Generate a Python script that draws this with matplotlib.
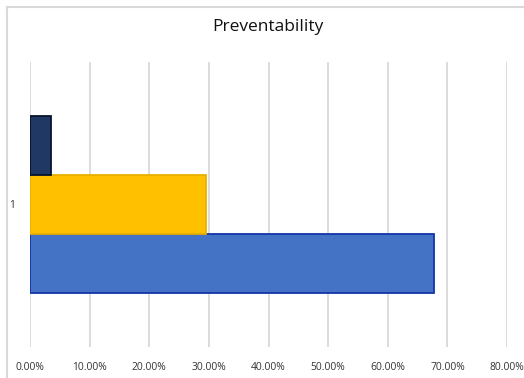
import matplotlib.pyplot as plt
from matplotlib.lines import Line2D
from matplotlib.ticker import FuncFormatter

# one category, three side-by-side horizontal series (bottom to top)
categories = ["1"]
series_names = ["Preventable", "Possibly preventable", "Not preventable"]
series_values = [0.678, 0.296, 0.035]
fill_colors = ["#4472C4", "#FFC000", "#203864"]
edge_colors = ["#1436a8", "#e8b000", "#08142e"]
x_ticks = [0.0, 0.1, 0.2, 0.3, 0.4, 0.5, 0.6, 0.7, 0.8]

W, H = 524, 378
fig = plt.figure(figsize=(W / 100, H / 100), dpi=100)
ax = fig.add_axes([30 / W, 1 - 347 / H, (507 - 30) / W, (347 - 62) / H])

bar_h = 59 / 285
n = len(series_values)
for i, (name, val) in enumerate(zip(series_names, series_values)):
    offset = (i - (n - 1) / 2) * bar_h
    ax.barh(0 + offset, val, height=bar_h, color=fill_colors[i],
            edgecolor=edge_colors[i], linewidth=1.3, label=name, zorder=3)

ax.set_xlim(0, 0.8)
ax.set_ylim(-0.5, 0.5)
ax.set_xticks(x_ticks)
ax.xaxis.set_major_formatter(FuncFormatter(lambda v, p: f"{v * 100:.2f}%"))
ax.set_yticks([0])
ax.set_yticklabels(categories)
ax.grid(axis="x", color="#d9d9d9", linewidth=1.3, zorder=0)
ax.tick_params(length=0, labelsize=7.4, colors="#333333")
ax.tick_params(axis="x", pad=11)
ax.tick_params(axis="y", pad=11)
for lbl in ax.get_xticklabels() + ax.get_yticklabels():
    lbl.set_family("Open Sans")
for s in ax.spines.values():
    s.set_visible(False)

fig.text(268 / W, 1 - 27 / H, "Preventability", ha="center", va="center",
         fontsize=12.5, family="Open Sans", color="#111111")

# chart frame: only the top and left edges fall inside the image
frame = dict(transform=fig.transFigure, color="#d9d9d9", linewidth=1.5)
fig.add_artist(Line2D([6.5 / W, 1.0], [1 - 7 / H, 1 - 7 / H], **frame))
fig.add_artist(Line2D([6.5 / W, 6.5 / W], [0.0, 1 - 7 / H], **frame))

fig.savefig("out.png", dpi=100)
